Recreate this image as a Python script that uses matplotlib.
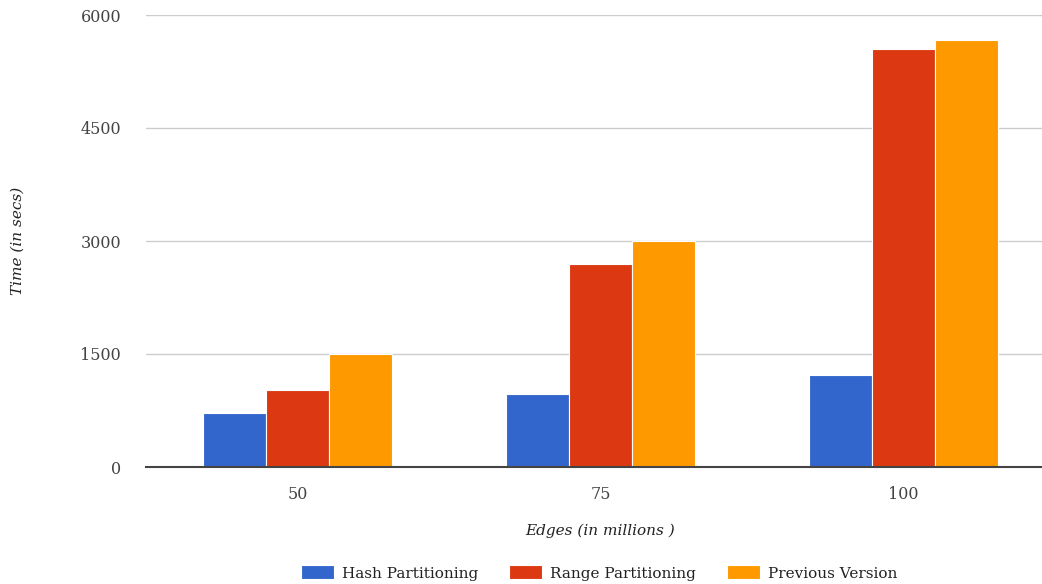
import matplotlib
matplotlib.use("Agg")
import matplotlib.pyplot as plt
import numpy as np

# Runtime (seconds) by graph size (millions of edges)
edges = ["50", "75", "100"]
hash_partitioning = [720, 970, 1220]
range_partitioning = [1020, 2700, 5550]
previous_version = [1500, 3000, 5670]
y_ticks = [0, 1500, 3000, 4500, 6000]

series = [
    ("Hash Partitioning", hash_partitioning, "#3366cc"),
    ("Range Partitioning", range_partitioning, "#dc3912"),
    ("Previous Version", previous_version, "#ff9900"),
]

plt.rcParams["font.family"] = ["DejaVu Serif"]

W, H = 1042, 584
fig = plt.figure(figsize=(W / 100, H / 100), dpi=100)
left, right, top, bottom = 146, 1055, 15, 467
ax = fig.add_axes([left / W, (H - bottom) / H, (right - left) / W, (bottom - top) / H])

x = np.arange(len(edges))
bw = 0.207
for i, (name, vals, color) in enumerate(series):
    ax.bar(x + (i - 1) * bw, vals, width=bw, color=color, edgecolor="white",
           linewidth=0.8, label=name, zorder=3)

ax.set_xlim(-0.5, len(edges) - 0.5)
ax.set_ylim(0, 6000)
ax.set_yticks(y_ticks)
ax.set_yticklabels([str(t) for t in y_ticks])
ax.set_xticks(x)
ax.set_xticklabels(edges)

ax.grid(axis="y", color="#cccccc", linewidth=1, zorder=0)
for s in ["top", "right", "left"]:
    ax.spines[s].set_visible(False)
ax.spines["bottom"].set_color("#444444")
ax.spines["bottom"].set_linewidth(1.5)
ax.spines["bottom"].set_zorder(4)
ax.tick_params(axis="both", length=0, colors="#444444", labelsize=11.5)
ax.tick_params(axis="y", pad=18)
ax.tick_params(axis="x", pad=14)

fig.text(600 / W, (H - 531) / H, "Edges (in millions )", style="italic",
         ha="center", va="center", fontsize=11, color="#222222")
fig.text(18 / W, (H - 241) / H, "Time (in secs)", style="italic", rotation=90,
         ha="center", va="center", fontsize=11, color="#222222")

fig.legend(loc="center", bbox_to_anchor=(599 / W, (H - 573) / H), ncol=3,
           frameon=False, fontsize=11, handlelength=2.2, handleheight=1.0,
           columnspacing=2.0, handletextpad=0.5, labelcolor="#222222")

fig.savefig("out.png", dpi=100)
